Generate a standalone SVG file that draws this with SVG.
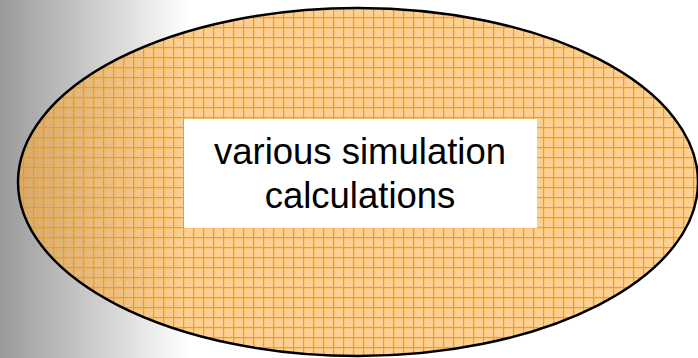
<svg xmlns="http://www.w3.org/2000/svg" width="698" height="358" viewBox="0 0 698 358">
<defs>
<linearGradient id="bg" x1="0" y1="0" x2="1" y2="0">
<stop offset="0" stop-color="#9a9a9a"/>
<stop offset="0.27" stop-color="#ffffff"/>
<stop offset="1" stop-color="#ffffff"/>
</linearGradient>
<pattern id="checker" x="0" y="0" width="2" height="2" patternUnits="userSpaceOnUse">
<rect width="1" height="1" fill="#ffffff" fill-opacity="0.12"/>
<rect x="1" y="1" width="1" height="1" fill="#ffffff" fill-opacity="0.12"/>
</pattern>
<clipPath id="clipE">
<ellipse cx="358" cy="182" rx="340" ry="174"/>
</clipPath>
<style>
.lbl{font-family:"Liberation Sans",Arial,sans-serif;font-size:36.5px;fill:#000;text-anchor:middle}
.gl{stroke:#ff9500;fill:none}
.g1{stroke-dasharray:1 9}
.g2{stroke-dasharray:1 9;stroke-opacity:0.22}
</style>
</defs>
<rect x="0" y="0" width="698" height="358" fill="url(#bg)"/>
<g id="ellipse-node">
<ellipse cx="358" cy="182" rx="340" ry="174" fill="#ffa528" fill-opacity="0.56"/>
<ellipse cx="358" cy="182" rx="340" ry="174" fill="url(#checker)"/>
<g clip-path="url(#clipE)" opacity="0.92">
<line class="gl g1" x1="3" y1="179" x2="698" y2="179" stroke-width="358"/>
<line class="gl g1" x1="349" y1="-3" x2="349" y2="358" stroke-width="698"/>
<line class="gl g2" x1="4" y1="179" x2="698" y2="179" stroke-width="358"/>
<line class="gl g2" x1="349" y1="-2" x2="349" y2="358" stroke-width="698"/>
</g>
<ellipse cx="358" cy="182" rx="340" ry="174" fill="none" stroke="#000" stroke-width="2.5"/>
</g>
<g id="label-node">
<rect x="184" y="119" width="353" height="109" fill="#ffffff"/>
<text class="lbl" x="360" y="164">various simulation</text>
<text class="lbl" x="360" y="208">calculations</text>
</g>
</svg>
